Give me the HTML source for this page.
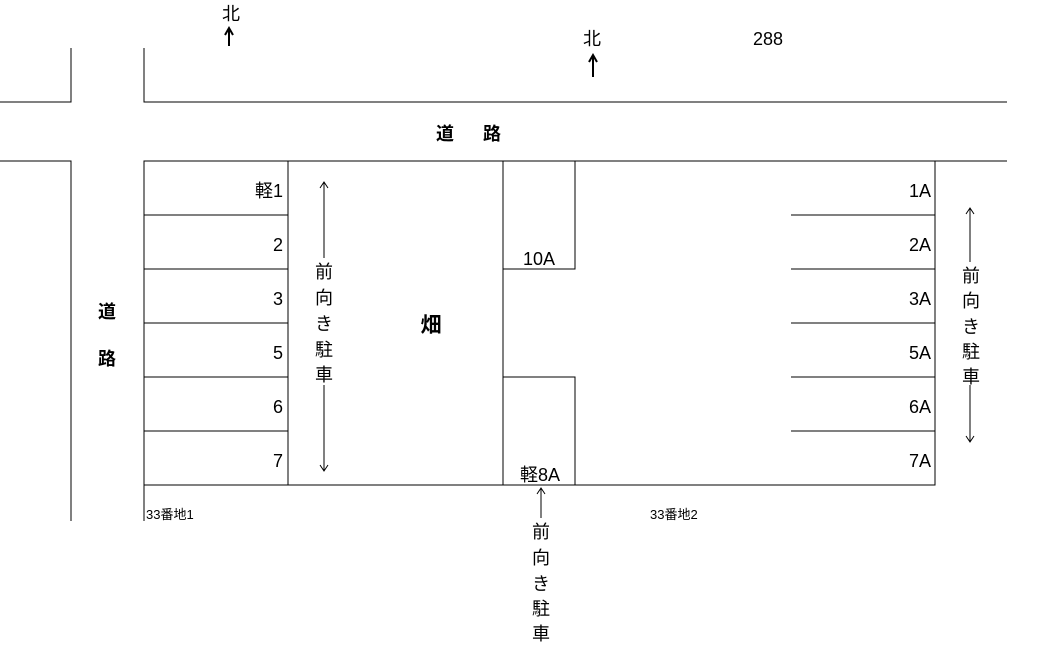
<!DOCTYPE html>
<html><head><meta charset="utf-8"><style>
html,body{margin:0;padding:0;background:#fff;width:1040px;height:655px;overflow:hidden}
svg text{font-family:"Liberation Sans","Noto Sans CJK JP",sans-serif;fill:#000}
</style></head><body>
<svg width="1040" height="655" viewBox="0 0 1040 655" xmlns="http://www.w3.org/2000/svg">
<g stroke="#000" stroke-width="1.3" fill="none" shape-rendering="crispEdges">
<path d="M0 102H71V48"/>
<path d="M144 48V102H1007"/>
<path d="M0 161H71V521"/>
<path d="M144 521V161H1007"/>
<path d="M144 485H935V161"/>
<path d="M144 215H288M144 269H288M144 323H288M144 377H288M144 431H288"/>
<path d="M288 161V485M503 161V485"/>
<path d="M503 269H575V161M503 377H575V485"/>
<path d="M791 215H935M791 269H935M791 323H935M791 377H935M791 431H935"/>
</g>
<g stroke="#000" stroke-width="1" fill="none">
<path d="M324 183V258M324 385V470M320 188L324 182L328 188M320 465L324 471L328 465"/>
<path d="M970 208V262M970 385V441M966 214L970 208L974 214M966 436L970 442L974 436"/>
<path d="M541 488V518M537 494L541 488L545 494"/>
</g>
<g stroke="#000" stroke-width="2" fill="none">
<path d="M229 46V30M225 35L229 28L233 35"/>
<path d="M593 77V57M589 62L593 55L597 62"/>
</g>
<g font-size="18">
<text x="231" y="20" text-anchor="middle">北</text>
<text x="592" y="45" text-anchor="middle">北</text>
<text x="768" y="45" text-anchor="middle">288</text>
<text x="436" y="140" font-weight="bold">道</text>
<text x="483" y="140" font-weight="bold">路</text>
<text x="98" y="318" font-weight="bold">道</text>
<text x="98" y="365" font-weight="bold">路</text>
<text x="431" y="332" text-anchor="middle" font-size="21" font-weight="bold">畑</text>
</g>
<g font-size="18" text-anchor="end">
<text x="283" y="197">軽1</text>
<text x="283" y="251">2</text>
<text x="283" y="305">3</text>
<text x="283" y="359">5</text>
<text x="283" y="413">6</text>
<text x="283" y="467">7</text>
<text x="931" y="197">1A</text>
<text x="931" y="251">2A</text>
<text x="931" y="305">3A</text>
<text x="931" y="359">5A</text>
<text x="931" y="413">6A</text>
<text x="931" y="467">7A</text>
</g>
<g font-size="18" text-anchor="middle">
<text x="539" y="265">10A</text>
<text x="540" y="481">軽8A</text>
<text x="324" y="278">前</text><text x="324" y="304">向</text><text x="324" y="330">き</text><text x="324" y="356">駐</text><text x="324" y="381">車</text>
<text x="971" y="282">前</text><text x="971" y="307">向</text><text x="971" y="333">き</text><text x="971" y="358">駐</text><text x="971" y="383">車</text>
<text x="541" y="538">前</text><text x="541" y="564">向</text><text x="541" y="590">き</text><text x="541" y="615">駐</text><text x="541" y="640">車</text>
</g>
<g font-size="13">
<text x="146" y="519">33番地1</text>
<text x="650" y="519">33番地2</text>
</g>
</svg>
</body></html>
